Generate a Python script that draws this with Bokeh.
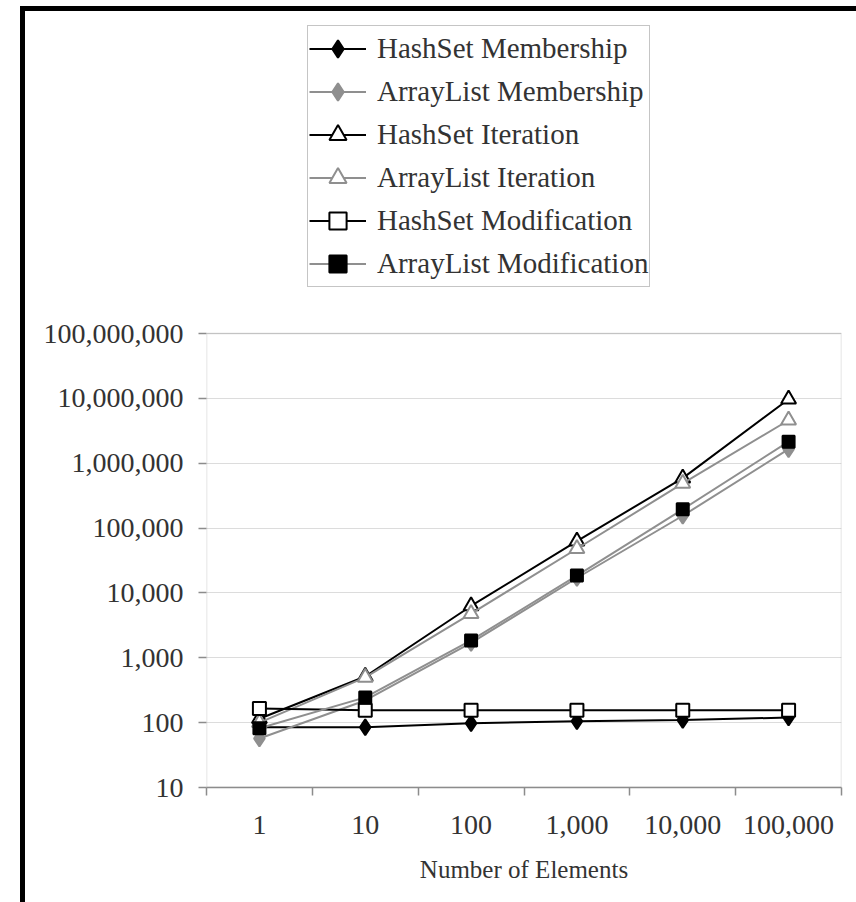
from bokeh.plotting import figure
from bokeh.models import (Range1d, FixedTicker, NumeralTickFormatter, Legend, LegendItem,
                          Div, Spacer, BoxAnnotation)
from bokeh.layouts import column, row
from bokeh.embed import file_html
from bokeh.resources import INLINE

sizes = ["1", "10", "100", "1,000", "10,000", "100,000"]
hashset_membership = [85, 85, 98, 105, 110, 120]
arraylist_membership = [57, 220, 1700, 17000, 155000, 1650000]
hashset_iteration = [115, 515, 6300, 63000, 590000, 9700000]
arraylist_iteration = [100, 500, 4800, 48000, 490000, 4600000]
hashset_modification = [165, 155, 155, 155, 155, 155]
arraylist_modification = [82, 245, 1850, 18500, 195000, 2150000]
y_ticks = [10, 100, 1000, 10000, 100000, 1000000, 10000000, 100000000]

FONT = "Liberation Serif"
TXT = "#333333"
BLACK = "#000000"
GRAY = "#8f8f8f"
AXIS = "#8c8c8c"

xs = [i + 0.5 for i in range(len(sizes))]

# the visible range extends above the plot box so that the legend sits inside the frame
p = figure(width=831, height=891, y_axis_type="log",
           x_range=Range1d(0, len(sizes)), y_range=Range1d(y_ticks[0], 10 ** 12.75),
           output_backend="svg", toolbar_location=None,
           min_border_left=181, min_border_right=15, min_border_top=14, min_border_bottom=115)
p.background_fill_color = "white"
p.border_fill_color = "white"
p.outline_line_color = None

# plot-area box drawn in data units (categories 0..N, 10..1e8)
p.add_layout(BoxAnnotation(left=0, right=len(sizes), bottom=y_ticks[0], top=y_ticks[-1],
                           fill_alpha=0, line_color=AXIS, line_width=1.5, level="underlay"))

# x axis
p.xaxis.ticker = FixedTicker(ticks=xs, minor_ticks=list(range(len(sizes) + 1)))
p.xaxis.major_label_overrides = {x: s for x, s in zip(xs, sizes)}
p.xaxis.major_tick_in = 0
p.xaxis.major_tick_out = 0
p.xaxis.minor_tick_in = 0
p.xaxis.minor_tick_out = 8
p.xaxis.minor_tick_line_color = AXIS
p.xaxis.minor_tick_line_width = 1.5
p.xaxis.axis_line_color = AXIS
p.xaxis.axis_line_width = 1.5
p.xaxis.major_label_standoff = 20
p.xaxis.axis_label = "Number of Elements"
p.xaxis.axis_label_standoff = 19
p.xaxis.axis_label_text_font = FONT
p.xaxis.axis_label_text_font_style = "normal"
p.xaxis.axis_label_text_font_size = "25px"
p.xaxis.axis_label_text_color = TXT

# y axis
p.yaxis.ticker = FixedTicker(ticks=y_ticks, minor_ticks=[])
p.yaxis.formatter = NumeralTickFormatter(format="0,0")
p.yaxis.major_tick_in = 0
p.yaxis.major_tick_out = 8
p.yaxis.major_tick_line_color = AXIS
p.yaxis.major_tick_line_width = 1.5
p.yaxis.axis_line_color = None
p.yaxis.major_label_standoff = 15

for ax in (p.xaxis, p.yaxis):
    ax.major_label_text_font = FONT
    ax.major_label_text_font_size = "28px"
    ax.major_label_text_color = TXT

p.xgrid.grid_line_color = None
p.ygrid.grid_line_color = "#dcdcdc"
p.ygrid.grid_line_width = 1.2

series = [
    ("HashSet Membership", hashset_membership, BLACK, "diamond", BLACK, BLACK, 16),
    ("ArrayList Membership", arraylist_membership, GRAY, "diamond", GRAY, GRAY, 16),
    ("HashSet Iteration", hashset_iteration, BLACK, "triangle", BLACK, "white", 15),
    ("ArrayList Iteration", arraylist_iteration, GRAY, "triangle", GRAY, "white", 15),
    ("HashSet Modification", hashset_modification, BLACK, "square", BLACK, "white", 13),
    ("ArrayList Modification", arraylist_modification, GRAY, "square", BLACK, BLACK, 12),
]

items = []
for name, vals, lc, marker, mline, mfill, msize in series:
    r1 = p.line(xs, vals, line_color=lc, line_width=2)
    r2 = p.scatter(xs, vals, marker=marker, size=msize, line_color=mline,
                   fill_color=mfill, line_width=2)
    items.append(LegendItem(label=name, renderers=[r1, r2]))

legend = Legend(items=items, location=(101, 500))
legend.label_text_font = FONT
legend.label_text_font_size = "29px"
legend.label_text_color = TXT
legend.glyph_width = 57
legend.glyph_height = 43
legend.label_height = 43
legend.label_standoff = 11
legend.spacing = 0
legend.padding = 1
legend.margin = 0
legend.border_line_color = AXIS
legend.border_line_width = 1.5
legend.background_fill_color = "white"
legend.background_fill_alpha = 1
p.add_layout(legend, "center")

# page border (black, left and top), as plain layout blocks
top_bar = Div(text="", width=836, height=5, margin=0, styles={"background-color": "#000"})
left_bar = Div(text="", width=5, height=891, margin=0, styles={"background-color": "#000"})
layout = column(
    Spacer(width=856, height=6),
    row(Spacer(width=20, height=5), top_bar, spacing=0),
    row(Spacer(width=20, height=891), left_bar, p, spacing=0),
    spacing=0,
)

open("out.html", "w").write(file_html(layout, INLINE))
